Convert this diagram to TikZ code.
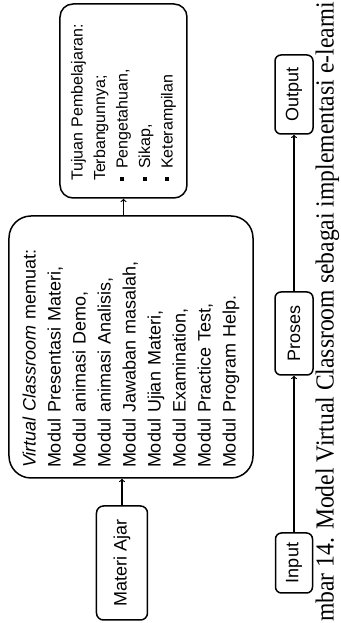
\documentclass[tikz,border=0pt]{standalone}
\usepackage{fontspec}
\setsansfont{Liberation Sans}
\newfontfamily\judulfont{Liberation Serif}
\newcommand{\poin}{\rule[0.22em]{4pt}{4pt}\hspace{8pt}}

\begin{document}
\begin{tikzpicture}[x=1pt,y=1pt,rotate=90,transform shape,
  kotak/.style={draw,line width=1.5pt,rounded corners=6pt,inner sep=0pt,
    font=\sffamily\fontsize{18}{25}\selectfont},
  panah/.style={->,line width=1.2pt}]
\useasboundingbox (0,0) rectangle (623,340);
\node(materi) at (60,218)[kotak,rounded corners=7pt,minimum width=114pt,minimum height=51pt] {Materi Ajar};
\node(kelas) at (276,209)[kotak,rounded corners=22pt,text width=242pt,inner xsep=10pt,minimum height=244pt,align=left]
  {\textit{Virtual Classroom} memuat:\\
   Modul Presentasi Materi,\\
   Modul animasi Demo,\\
   Modul animasi Analisis,\\
   Modul Jawaban masalah,\\
   Modul Ujian Materi,\\
   Modul Examination,\\
   Modul Practice Test,\\
   Modul Program Help.};
\node(tujuan) at (522,216.5)[kotak,rounded corners=13pt,text width=160pt,inner xsep=17pt,minimum height=127pt,align=left,
  font=\sffamily\fontsize{16}{22.5}\selectfont]
  {Tujuan Pembelajaran:\\
   Terbangunnya;\\
   \poin Pengetahuan,\\
   \poin Sikap,\\
   \poin Keterampilan};
\node(input)  at (60,46)[kotak,minimum width=60pt,minimum height=37pt]    {Input};
\node(proses) at (289.5,46)[kotak,minimum width=83pt,minimum height=38pt] {Proses};
\node(output) at (528.5,46)[kotak,minimum width=79pt,minimum height=38pt] {Output};
\path [panah]
  (materi)                edge (materi -| kelas.west)
  (kelas.east |- tujuan)  edge (tujuan)
  (input)                 edge (proses)
  (proses)                edge (output);
% keterangan gambar (terpotong di tepi)
\node(judul) at (1,6.5)[anchor=base west,inner sep=0pt]
  {\resizebox{620pt}{\height}{\judulfont\fontsize{26}{26}\selectfont mbar 14. Model Virtual Classroom sebagai implementasi e-learni}};
\end{tikzpicture}
\end{document}
